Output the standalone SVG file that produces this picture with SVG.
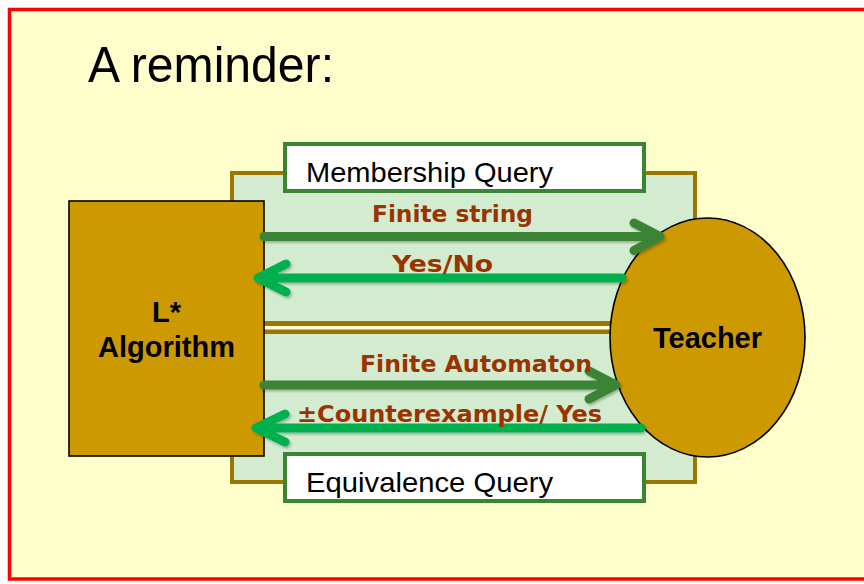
<svg xmlns="http://www.w3.org/2000/svg" width="864" height="584" viewBox="0 0 864 584">
  <defs>
    <filter id="shadow" x="-5%" y="-50%" width="110%" height="200%">
      <feDropShadow dx="1.5" dy="2" stdDeviation="1.2" flood-color="#000000" flood-opacity="0.25"/>
    </filter>
  </defs>
  <style>
    .frame { fill: #FFFFCC; stroke: #FF0000; stroke-width: 3.5; }
    .panel { fill: #D3ECCF; stroke: #9C7700; stroke-width: 4; }
    .query { fill: #FFFFFF; stroke: #3B8434; stroke-width: 4; }
    .query-text { font-family: "Liberation Sans", Arial, sans-serif; font-size: 28px; fill: #000000; }
    .actor { fill: #CC9900; stroke: #000000; stroke-width: 1.6; }
    .actor-text { font-family: "Liberation Sans", Arial, sans-serif; font-size: 29px; font-weight: bold; fill: #000000; text-anchor: middle; }
    .label { font-family: "DejaVu Sans", Verdana, sans-serif; font-size: 23px; font-weight: bold; fill: #993300; }
    .send { fill: none; stroke: #3B8434; stroke-width: 9; stroke-linecap: round; stroke-linejoin: round; }
    .reply { fill: none; stroke: #00B050; stroke-width: 9; stroke-linecap: round; stroke-linejoin: round; }
    .title { font-family: "Liberation Sans", Arial, sans-serif; font-size: 50px; fill: #000000; }
  </style>

  <!-- slide background and frame -->
  <rect class="frame" x="9.5" y="9.5" width="858" height="569.5"/>
  <text class="title" x="88" y="82" textLength="246" lengthAdjust="spacingAndGlyphs">A reminder:</text>

  <!-- shared query channel panel -->
  <g id="channel">
    <rect class="panel" x="232" y="173" width="463" height="309"/>
  </g>

  <g id="membership-query">
    <rect class="query" x="285" y="144" width="359" height="47"/>
    <text class="query-text" x="306" y="182" textLength="247" lengthAdjust="spacingAndGlyphs">Membership Query</text>
  </g>

  <g id="equivalence-query">
    <rect class="query" x="285" y="454" width="359" height="47"/>
    <text class="query-text" x="306" y="492" textLength="247" lengthAdjust="spacingAndGlyphs">Equivalence Query</text>
  </g>

  <!-- divider between the two query kinds -->
  <g id="divider">
    <rect x="264" y="321" width="348" height="13" fill="#9C7700"/>
    <rect x="264" y="326" width="348" height="3.5" fill="#FFFBD8"/>
  </g>

  <g id="learner">
    <rect class="actor" x="69" y="201" width="195" height="255"/>
    <text class="actor-text" x="166.5" y="322">L*</text>
    <text class="actor-text" x="166.5" y="357">Algorithm</text>
  </g>

  <g id="teacher">
    <ellipse class="actor" cx="707.5" cy="337.5" rx="97.5" ry="119.5"/>
    <text class="actor-text" x="707.5" y="348">Teacher</text>
  </g>

  <!-- message arrows -->
  <g id="connectors" filter="url(#shadow)">
    <path class="send" d="M264 236.5 H658 M634 223 L660 236.5 L634 250.5"/>
    <path class="reply" d="M622 278 H260 M286 264 L258 278 L286 292"/>
    <path class="send" d="M264 385 H614 M589 371 L616 385 L589 399"/>
    <path class="reply" d="M641 428 H258 M285 414 L256 428 L285 442"/>
  </g>

  <g id="labels">
    <text class="label" x="372" y="222" textLength="161" lengthAdjust="spacingAndGlyphs">Finite string</text>
    <text class="label" x="392" y="272" textLength="101" lengthAdjust="spacingAndGlyphs">Yes/No</text>
    <text class="label" x="360" y="372" textLength="232" lengthAdjust="spacingAndGlyphs">Finite Automaton</text>
    <text class="label" x="297" y="422" textLength="305" lengthAdjust="spacingAndGlyphs">±Counterexample/ Yes</text>
  </g>
</svg>
